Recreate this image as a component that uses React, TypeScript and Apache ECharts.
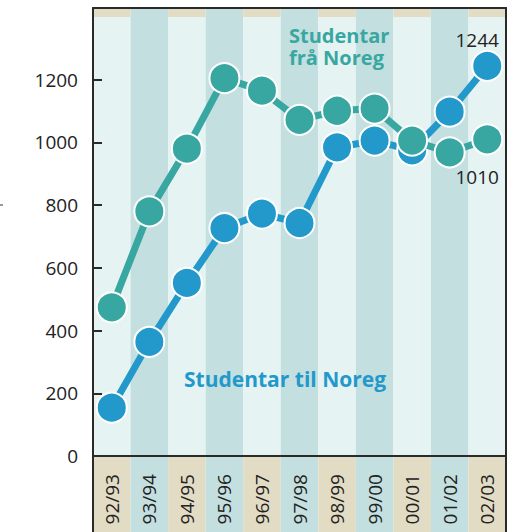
import React, { useEffect, useRef } from "react";
import * as echarts from "echarts";

const categories = ["92/93", "93/94", "94/95", "95/96", "96/97", "97/98", "98/99", "99/00", "00/01", "01/02", "02/03"];
const fraNoreg = [474, 780, 980, 1205, 1165, 1072, 1101, 1108, 1006, 968, 1010];
const tilNoreg = [154, 364, 552, 727, 773, 743, 984, 1006, 975, 1098, 1244];
const yTicks = { min: 0, max: 1400, interval: 200 };

const TEAL = "#39a7a1";
const BLUE = "#2399cb";
const FONT = "Open Sans";
const DARK = "#2a2a2a";

export default function App() {
  const ref = useRef<HTMLDivElement>(null);
  useEffect(() => {
    if (!ref.current) return;
    const chart = echarts.init(ref.current, undefined, { renderer: "svg" });
    const lastIdx = categories.length - 1;
    const tilData = tilNoreg.map((v, i) =>
      i === lastIdx
        ? { value: v, label: { show: true, position: "top", distance: 0, offset: [-10, 0], formatter: String(v), fontSize: 19, color: "#222", fontFamily: FONT } }
        : v
    );
    const fraData = fraNoreg.map((v, i) =>
      i === lastIdx
        ? { value: v, label: { show: true, position: "bottom", distance: 12, offset: [-10, 0], formatter: String(v), fontSize: 19, color: "#222", fontFamily: FONT } }
        : v
    );
    const hiddenY = (gi: number) => ({ type: "value", gridIndex: gi, min: 0, max: 1, show: false });
    const bandX = (gi: number, colors: string[]) => ({
      type: "category",
      gridIndex: gi,
      data: categories,
      boundaryGap: true,
      axisLine: { show: false },
      axisTick: { show: false, interval: 0 },
      axisLabel: { show: false, interval: 0 },
      splitLine: { show: false },
      splitArea: { show: true, interval: 0, areaStyle: { color: colors } },
    });
    const borderY = (gi: number, position: string) => ({
      type: "value",
      gridIndex: gi,
      position,
      min: 0,
      max: 1,
      axisLine: { show: true, onZero: false, lineStyle: { color: DARK, width: 2 } },
      axisTick: { show: false },
      axisLabel: { show: false },
      splitLine: { show: false },
    });
    chart.setOption({
      animation: false,
      textStyle: { fontFamily: FONT },
      grid: [
        { left: 93, right: 16, top: 17, bottom: 76 },
        { left: 93, right: 16, top: 8, height: 9 },
        { left: 93, right: 16, top: 456, height: 90 },
      ],
      xAxis: [
        {
          type: "category",
          gridIndex: 0,
          data: categories,
          boundaryGap: true,
          axisLine: { show: true, lineStyle: { color: DARK, width: 2 } },
          axisTick: { show: false },
          axisLabel: { interval: 0, rotate: 90, margin: 18, fontSize: 19, color: "#222", fontFamily: FONT },
          splitLine: { show: false },
          splitArea: { show: true, interval: 0, areaStyle: { color: ["#e6f3f3", "#c3dfdf"] } },
        },
        bandX(1, ["#e3dcc4", "#c3dfdf"]),
        bandX(2, ["#e3dcc4", "#c3dfdf"]),
        {
          type: "category",
          gridIndex: 1,
          data: categories,
          position: "top",
          axisLine: { show: true, onZero: false, lineStyle: { color: DARK, width: 2 } },
          axisTick: { show: false },
          axisLabel: { show: false },
          splitLine: { show: false },
        },
      ],
      yAxis: [
        {
          type: "value",
          gridIndex: 0,
          min: yTicks.min,
          max: yTicks.max,
          interval: yTicks.interval,
          axisLine: { show: true, lineStyle: { color: DARK, width: 2 } },
          axisTick: { show: true, inside: true, length: 9, lineStyle: { color: DARK, width: 2 } },
          axisLabel: { showMaxLabel: false, margin: 15, fontSize: 19, color: "#222", fontFamily: FONT, formatter: (v: number) => String(v) },
          splitLine: { show: false },
        },
        hiddenY(1),
        hiddenY(2),
        borderY(0, "right"),
        borderY(1, "right"),
        borderY(1, "left"),
        borderY(2, "right"),
        borderY(2, "left"),
      ],
      series: [
        {
          name: "Studentar til Noreg",
          type: "line",
          xAxisIndex: 0,
          yAxisIndex: 0,
          data: tilData,
          symbol: "circle",
          symbolSize: 30,
          lineStyle: { color: BLUE, width: 7 },
          itemStyle: { color: BLUE, borderColor: "#fff", borderWidth: 2 },
          z: 3,
        },
        {
          name: "Studentar frå Noreg",
          type: "line",
          xAxisIndex: 0,
          yAxisIndex: 0,
          data: fraData,
          symbol: "circle",
          symbolSize: 30,
          lineStyle: { color: TEAL, width: 7 },
          itemStyle: { color: TEAL, borderColor: "#fff", borderWidth: 2 },
          z: 4,
        },
      ],
      graphic: [
        {
          type: "line",
          z: 100,
          shape: { x1: 0, y1: 205, x2: 3, y2: 205 },
          style: { stroke: "#333", lineWidth: 1 },
        },
        {
          type: "text",
          z: 100,
          x: 289,
          y: 25,
          style: { text: "Studentar", fill: TEAL, fontSize: 20, lineHeight: 20, fontWeight: "bold", fontFamily: FONT, textVerticalAlign: "top" },
        },
        {
          type: "text",
          z: 100,
          x: 289,
          y: 47,
          style: { text: "frå Noreg", fill: TEAL, fontSize: 20, lineHeight: 20, fontWeight: "bold", fontFamily: FONT, textVerticalAlign: "top" },
        },
        {
          type: "text",
          z: 100,
          x: 184,
          y: 379,
          style: { text: "Studentar til Noreg", fill: BLUE, fontSize: 21, fontWeight: "bold", fontFamily: FONT, textVerticalAlign: "middle" },
        },
      ],
    });
    return () => chart.dispose();
  }, []);
  return <div ref={ref} style={{ width: 522, height: 532, position: "absolute", left: 0, top: 0 }} />;
}
